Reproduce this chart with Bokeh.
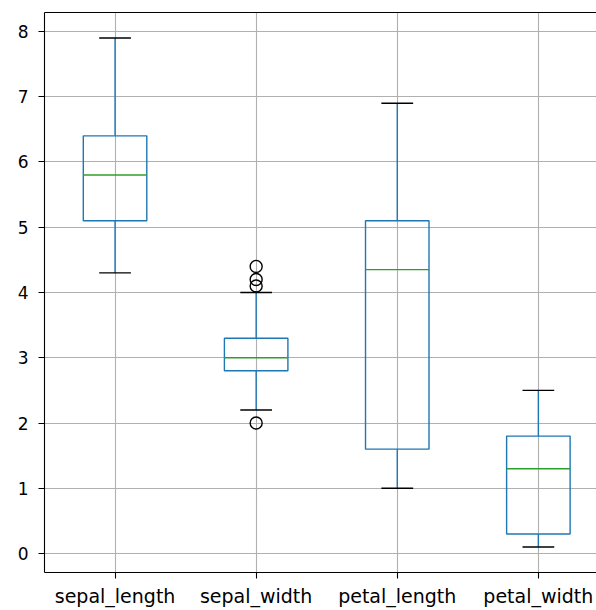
from bokeh.plotting import figure
from bokeh.models import Range1d, FixedTicker, LinearAxis, ColumnDataSource
from bokeh.embed import file_html
from bokeh.resources import INLINE

categories = ["sepal_length", "sepal_width", "petal_length", "petal_width"]
positions = [1, 2, 3, 4]
q1 = [5.1, 2.8, 1.6, 0.3]
median = [5.8, 3.0, 4.35, 1.3]
q3 = [6.4, 3.3, 5.1, 1.8]
whisker_low = [4.3, 2.2, 1.0, 0.1]
whisker_high = [7.9, 4.0, 6.9, 2.5]
flier_pos = [2, 2, 2, 2]
flier_vals = [4.4, 4.1, 4.2, 2.0]
y_ticks = [0, 1, 2, 3, 4, 5, 6, 7, 8]

box_w = 0.45
cap_w = 0.225

p = figure(width=596, height=610, output_backend="svg", toolbar_location=None,
           x_range=Range1d(0.5, 4.412), y_range=Range1d(-0.29, 8.29),
           min_border_left=44, min_border_right=0, min_border_top=12, min_border_bottom=38)
p.outline_line_color = None
p.background_fill_color = "white"
p.border_fill_color = "white"

src = ColumnDataSource(dict(
    x=positions,
    left=[x - box_w / 2 for x in positions],
    right=[x + box_w / 2 for x in positions],
    cl=[x - cap_w / 2 for x in positions],
    cr=[x + cap_w / 2 for x in positions],
    q1=q1, q3=q3, med=median, lo=whisker_low, hi=whisker_high,
))

p.segment(x0="x", y0="q1", x1="x", y1="lo", source=src, line_color="#1f77b4", line_width=1.4)
p.segment(x0="x", y0="q3", x1="x", y1="hi", source=src, line_color="#1f77b4", line_width=1.4)
p.segment(x0="cl", y0="lo", x1="cr", y1="lo", source=src, line_color="black", line_width=1.4)
p.segment(x0="cl", y0="hi", x1="cr", y1="hi", source=src, line_color="black", line_width=1.4)
p.quad(left="left", right="right", bottom="q1", top="q3", source=src,
       fill_color=None, line_color="#1f77b4", line_width=1.4)
p.segment(x0="left", y0="med", x1="right", y1="med", source=src, line_color="#2ca02c", line_width=1.4)
p.scatter(flier_pos, flier_vals, marker="circle", size=12, fill_color=None,
          line_color="black", line_width=1.4)

font = "DejaVu Sans"
for ax in (p.xaxis[0], p.yaxis[0]):
    ax.axis_line_color = "black"
    ax.axis_line_width = 1.1
    ax.major_tick_line_color = "black"
    ax.major_tick_line_width = 1.1
    ax.major_tick_out = 6
    ax.major_tick_in = 0
    ax.minor_tick_line_color = None
    ax.major_label_text_font = font
    ax.major_label_text_color = "black"

p.xaxis.major_label_text_font_size = "19px"
p.xaxis.major_label_standoff = 6
p.yaxis.major_label_text_font_size = "17px"
p.yaxis.major_label_standoff = 10

p.xaxis.ticker = FixedTicker(ticks=positions)
p.xaxis.major_label_overrides = {pos: name for pos, name in zip(positions, categories)}
p.yaxis.ticker = FixedTicker(ticks=y_ticks)

top = LinearAxis(major_tick_line_color=None, minor_tick_line_color=None,
                 major_label_text_font_size="0px", axis_line_color="black", axis_line_width=1.1)
top.ticker = FixedTicker(ticks=[])
p.add_layout(top, "above")

p.xgrid.ticker = FixedTicker(ticks=positions)
p.ygrid.ticker = FixedTicker(ticks=y_ticks)
for g in (p.xgrid[0], p.ygrid[0]):
    g.grid_line_color = "#b0b0b0"
    g.grid_line_width = 1.1

open("out.html", "w").write(file_html(p, INLINE))
